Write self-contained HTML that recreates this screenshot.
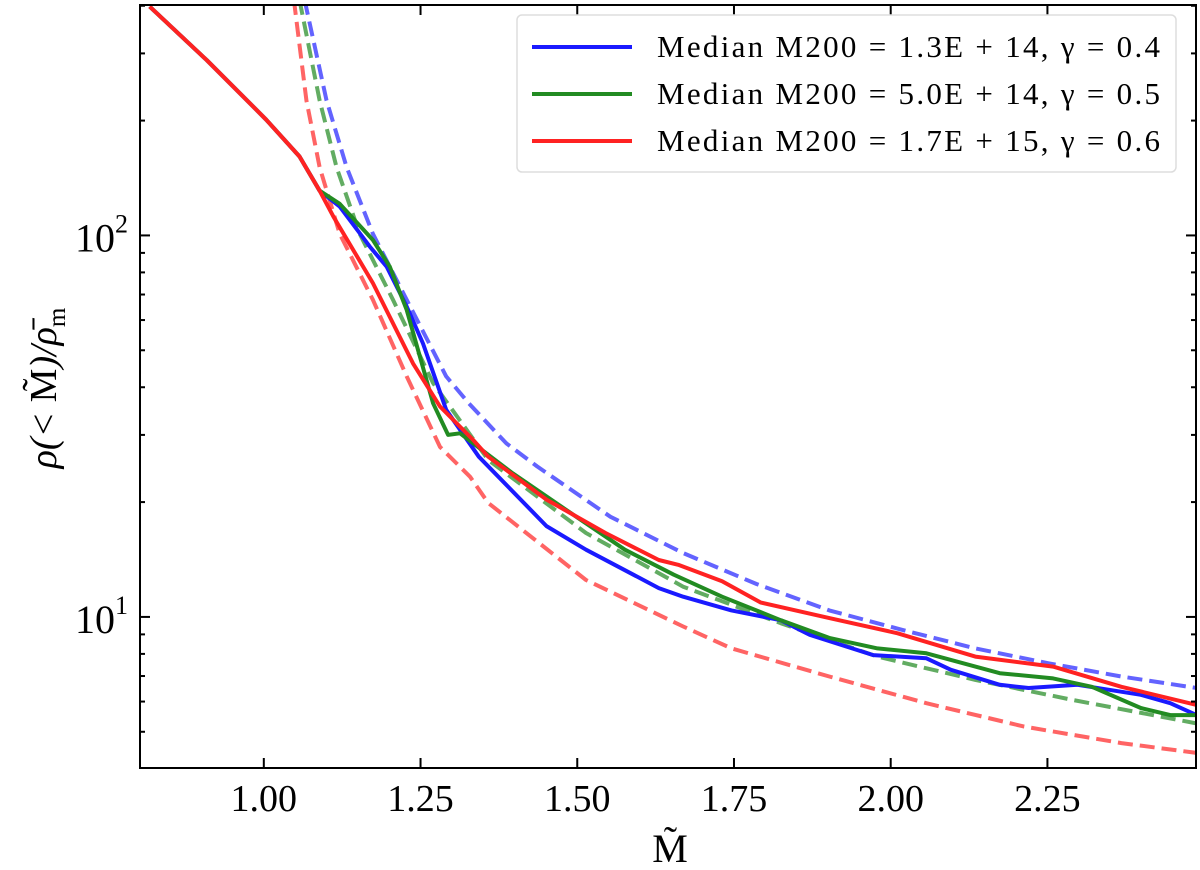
<!DOCTYPE html>
<html><head><meta charset="utf-8"><style>
html,body{margin:0;padding:0;background:#fff;}
svg{display:block;font-family:"Liberation Serif","DejaVu Serif",serif;}
</style></head><body>
<svg id="chart" width="1200" height="870" viewBox="0 0 1200 870">
<g id="plot"></g>
</svg>
<script>
// ---- data ----
const xTicks = [1.00, 1.25, 1.50, 1.75, 2.00, 2.25];
const xTickLabels = ["1.00", "1.25", "1.50", "1.75", "2.00", "2.25"];
const yMajor = [10, 100];
const yMajorExp = ["1", "2"];
const commonX = [0.818, 0.909, 1.004, 1.057, 1.089];
const commonY = [398, 288, 201, 161, 131];
const blueX = [1.121,1.169,1.196,1.228,1.254,1.291,1.343,1.451,1.514,1.630,1.669,1.746,1.825,1.871,1.972,2.057,2.096,2.174,2.220,2.298,2.399,2.446,2.488];
const blueY = [119,93.5,82.8,65.1,52.1,34.9,26.3,17.3,15.0,11.9,11.3,10.4,9.8,8.97,7.94,7.79,7.27,6.64,6.51,6.64,6.25,5.94,5.53];
const greenX = [1.121,1.174,1.201,1.228,1.270,1.294,1.313,1.397,1.490,1.576,1.654,1.731,1.825,1.903,1.979,2.057,2.174,2.259,2.321,2.399,2.446,2.488];
const greenY = [121,97.3,82.8,63.8,36.3,30.0,30.3,23.8,18.7,15.0,12.9,11.3,9.8,8.80,8.27,8.03,7.12,6.90,6.56,5.77,5.53,5.53];
const redX = [1.111,1.174,1.238,1.281,1.334,1.358,1.451,1.545,1.630,1.661,1.731,1.793,1.902,2.011,2.135,2.259,2.368,2.488];
const redY = [112,75.0,46.2,35.6,29.1,26.3,20.3,16.6,14.1,13.7,12.4,10.9,9.93,9.06,7.87,7.41,6.56,5.88];
const blueDashX = [1.065,1.100,1.132,1.174,1.228,1.291,1.327,1.387,1.436,1.553,1.669,1.786,1.902,2.018,2.135,2.252,2.368,2.488];
const blueDashY = [414,226,151,101,67.8,42.7,36.3,28.5,24.8,18.3,14.7,12.2,10.4,9.25,8.27,7.56,6.98,6.51];
const greenDashX = [1.057,1.089,1.116,1.153,1.206,1.270,1.358,1.514,1.669,1.825,1.979,2.135,2.290,2.488];
const greenDashY = [414,226,151,101,67.8,41.0,25.8,16.6,12.0,9.62,7.87,6.84,6.06,5.26];
const redDashX = [1.048,1.068,1.089,1.121,1.174,1.228,1.281,1.329,1.358,1.514,1.669,1.746,1.902,2.057,2.213,2.368,2.488];
const redDashY = [414,226,151,101,67.8,42.7,27.9,23.3,19.9,12.5,9.44,8.27,6.98,5.94,5.16,4.67,4.40];

// ---- axes ----
const L=140,R=1196,T=5,B=768;
const X0=0.8025, X1=2.487;
const LY0=0.604, LY1=2.604;
const sx=v=>L+(v-X0)/(X1-X0)*(R-L);
const sy=v=>B-(Math.log10(v)-LY0)/(LY1-LY0)*(B-T);
const NS="http://www.w3.org/2000/svg";
const svg=document.getElementById('chart');
const plot=document.getElementById('plot');
function mk(tag,attrs,parent){const e=document.createElementNS(NS,tag);for(const k in attrs)e.setAttribute(k,attrs[k]);(parent||svg).appendChild(e);return e;}

const clip=mk('clipPath',{id:'pc'});mk('rect',{x:L,y:T,width:R-L,height:B-T},clip);
plot.setAttribute('clip-path','url(#pc)');

function series(xs,ys,color,dash,name,alpha){
  const pts=xs.map((x,i)=>sx(x).toFixed(1)+','+sy(ys[i]).toFixed(1)).join(' ');
  const p=mk('polyline',{points:pts,fill:'none',stroke:color,'stroke-width':4,'stroke-linejoin':'round','stroke-opacity':alpha},plot);
  if(dash)p.setAttribute('stroke-dasharray','15 7');
  
  
}
series(blueDashX,blueDashY,'#5b5bff',true,'blue-model-dashed-line',0.95);
series(greenDashX,greenDashY,'#5aa85a',true,'green-model-dashed-line',0.95);
series(redDashX,redDashY,'#ff5c5c',true,'red-model-dashed-line',0.95);
series(commonX.concat(blueX),commonY.concat(blueY),'#1a1aff',false,'blue-median-line',1);
series(commonX.concat(greenX),commonY.concat(greenY),'#228b22',false,'green-median-line',1);
series(commonX.concat(redX),commonY.concat(redY),'#ff2222',false,'red-median-line',1);

// frame
const fr=mk('rect',{x:L,y:T,width:R-L,height:B-T,fill:'none',stroke:'#000','stroke-width':2});



// x ticks
xTicks.forEach((v,i)=>{
  const x=sx(v);
  mk('line',{x1:x,y1:B,x2:x,y2:B-10,stroke:'#000','stroke-width':2});
  mk('line',{x1:x,y1:T,x2:x,y2:T+10,stroke:'#000','stroke-width':2});
  const t=mk('text',{x:x,y:811,'font-size':38,'text-anchor':'middle'});
  t.textContent=xTickLabels[i];
  
  
});
// y ticks
for(let d=0;d<=2;d++){for(let m=1;m<=9;m++){
  const v=m*Math.pow(10,d);const y=sy(v);
  if(y<T||y>B)continue;
  const len=m===1?10:5;
  mk('line',{x1:L,y1:y,x2:L+len,y2:y,stroke:'#000','stroke-width':2});
  mk('line',{x1:R,y1:y,x2:R-len,y2:y,stroke:'#000','stroke-width':2});
}}
yMajor.forEach((v,i)=>{
  const y=sy(v);
  const t=mk('text',{x:128,y:y+16,'font-size':40,'text-anchor':'end'});
  t.textContent='10';
  const s=mk('tspan',{'font-size':26,dy:-19},t);s.textContent=yMajorExp[i];
  
  
});

// axis titles
const xt=mk('text',{x:670,y:862,'font-size':40,'text-anchor':'middle'});
xt.textContent='M̃';


const yt=mk('text',{x:0,y:0,'font-size':38,'text-anchor':'middle','font-style':'italic',transform:'translate(56,388) rotate(-90)'});
yt.innerHTML='ρ(&lt; <tspan font-style="normal">M̃</tspan>)/ρ̄<tspan font-size="25" dy="9" font-style="normal">m</tspan>';



// legend
const lg=mk('g',{});


mk('rect',{x:517,y:15,width:659,height:157,rx:5,fill:'#fff','fill-opacity':0.85,stroke:'#ddd','stroke-width':1.5},lg);
const legColors=['#1a1aff','#228b22','#ff2222'];
const legText=['Median M200 = 1.3E + 14,  γ = 0.4','Median M200 = 5.0E + 14,  γ = 0.5','Median M200 = 1.7E + 15,  γ = 0.6'];
const legNames=['legend-entry-blue','legend-entry-green','legend-entry-red'];
legText.forEach((s,i)=>{
  const y=47+i*47;
  const g=mk('g',{},lg);
  
  
  mk('line',{x1:532,y1:y,x2:632,y2:y,stroke:legColors[i],'stroke-width':4},g);
  const t=mk('text',{x:657,y:y+10,'font-size':31,'xml:space':'preserve',textLength:503,lengthAdjust:'spacing'},g);
  t.textContent=s;
});
</script>
</body></html>
